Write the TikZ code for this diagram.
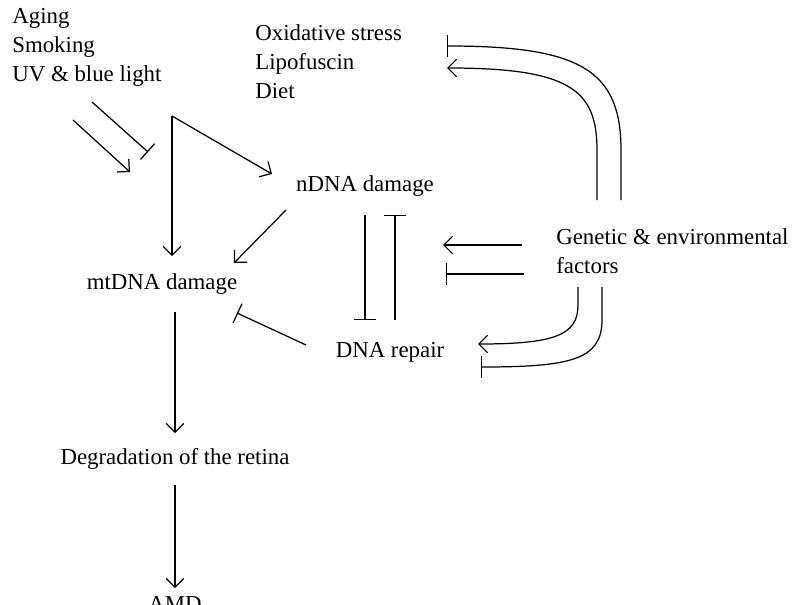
\documentclass[tikz,border=0pt]{standalone}
\usepackage{fontspec}
\setmainfont{Liberation Serif}
\usetikzlibrary{arrows.meta}
\begin{document}
\begin{tikzpicture}[x=0.02cm,y=-0.02cm,
  txt/.style={font=\fontsize{13}{16.5}\selectfont,inner sep=0pt},
  ar/.style={line width=0.7pt,-{Straight Barb[length=5pt,width=10pt]}},
  br/.style={line width=0.7pt,-{Bar[width=12pt]}}]
\useasboundingbox (0,0) rectangle (796,605);
\node[txt,anchor=north west,align=left] (src) at (12,8) {Aging\\Smoking\\UV \& blue light};
\node[txt,anchor=north west,align=left] (ox) at (255,24) {Oxidative stress\\Lipofuscin\\Diet};
\node[txt] (n) at (365,186) {nDNA damage};
\node[txt] (mt) at (162,284) {mtDNA damage};
\node[txt] (rep) at (390,352) {DNA repair};
\node[txt] (deg) at (175,459) {Degradation of the retina};
\node[txt,anchor=north] (amd) at (175,596) {AMD};
\node[txt,anchor=north west,align=left] (gen) at (556,228) {Genetic \& environmental\\factors};
\coordinate (a1) at (73,120); \coordinate (a2) at (130,172);
\coordinate (b1) at (92,102); \coordinate (b2) at (148,152);
\coordinate (ap) at (172,116); \coordinate (ap1) at (172,256); \coordinate (ap2) at (272,174);
\coordinate (n1) at (286,210); \coordinate (n2) at (234,263);
\coordinate (v1) at (365,215); \coordinate (v2) at (365,320);
\coordinate (w1) at (395,320); \coordinate (w2) at (395,215);
\coordinate (r1) at (306,345); \coordinate (r2) at (237,313);
\coordinate (m1) at (175,312); \coordinate (m2) at (175,433);
\coordinate (d1) at (175,485); \coordinate (d2) at (175,588);
\coordinate (g1) at (522,245); \coordinate (g2) at (443,245);
\coordinate (h1) at (524,274); \coordinate (h2) at (446,274);
\coordinate (t1) at (597,200); \coordinate (t2) at (447,68);
\coordinate (u1) at (621,200); \coordinate (u2) at (447,46);
\coordinate (p1) at (578,287); \coordinate (p2) at (478,344);
\coordinate (q1) at (602,287); \coordinate (q2) at (481,367);
\draw[ar] (a1) -- (a2);
\draw[br] (b1) -- (b2);
\draw[ar] (ap) -- (ap1);
\draw[ar] (ap) -- (ap2);
\draw[ar] (n1) -- (n2);
\draw[br] (v1) -- (v2);
\draw[br] (w1) -- (w2);
\draw[br] (r1) -- (r2);
\draw[ar] (m1) -- (m2);
\draw[ar] (d1) -- (d2);
\draw[ar] (g1) -- (g2);
\draw[br] (h1) -- (h2);
\draw[ar] (t1) -- (597,150) .. controls (597,90) and (570,68) .. (t2);
\draw[br] (u1) -- (621,150) .. controls (621,70) and (580,46) .. (u2);
\draw[ar] (p1) -- (578,305) .. controls (578,335) and (555,344) .. (p2);
\draw[br] (q1) -- (602,320) .. controls (602,360) and (570,367) .. (q2);
\end{tikzpicture}
\end{document}
